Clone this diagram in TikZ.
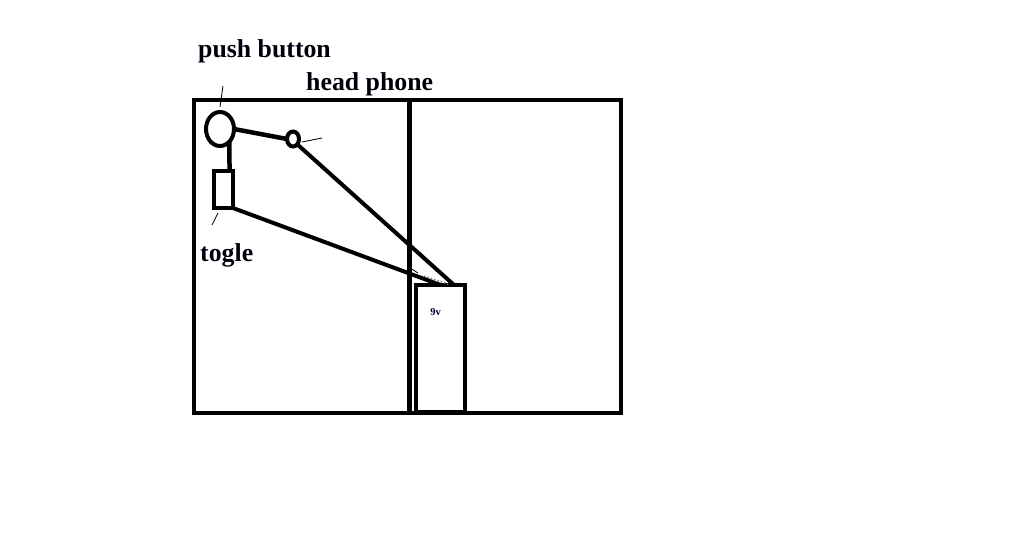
\documentclass[tikz,border=0pt]{standalone}
\usepackage{fontspec}
\setmainfont{Liberation Serif}
\usetikzlibrary{shapes.geometric}
\begin{document}
\begin{tikzpicture}[x=1pt,y=-1pt,
  part/.style={draw=black,line width=4.5pt,inner sep=0pt,outer sep=0pt},
  roundpart/.style={draw=black,line width=4pt,ellipse,inner sep=0pt,outer sep=0pt},
  wire/.style={draw=black,line width=4.5pt},
  lead/.style={draw=black,line width=0.8pt},
  caption/.style={font=\bfseries\fontsize{25.8}{28}\selectfont,text=black!95!blue,inner sep=0pt,anchor=base west}]
\useasboundingbox (0,0) rectangle (1024,544);
\fill[white] (0,0) rectangle (1024,544);
\node[part,minimum width=215.5pt,minimum height=313pt] (leftbox) at (301.75,256.5) {};
\node[part,minimum width=211.5pt,minimum height=313pt] (rightbox) at (515.25,256.5) {};
\coordinate (leadA) at (223,86);
\coordinate (leadB) at (220,107);
\coordinate (leadC) at (322,138);
\coordinate (leadD) at (302,142);
\coordinate (leadE) at (218,213);
\coordinate (leadF) at (212,225);
\coordinate (leadG) at (410,268);
\coordinate (leadH) at (418,273);
\node[part,minimum width=49pt,minimum height=127pt] (battery) at (440.5,348.5) {};
\node[part,minimum width=19pt,minimum height=37pt] (toggle) at (223.5,189.5) {};
\node[roundpart,minimum width=28pt,minimum height=34pt] (button) at (220,129) {};
\node[roundpart,minimum width=12pt,minimum height=15pt] (phone) at (293,139) {};
\draw[wire] (button.east) -- (phone.west);
\draw[wire] (button.-53) -- (toggle.72);
\draw[wire,line width=4pt] (phone.south east) -- (battery.78);
\draw[wire,line width=4pt] (toggle.south east) -- (battery.north);
\draw[lead] (leadA) -- (leadB);
\draw[lead] (leadC) -- (leadD);
\draw[lead] (leadE) -- (leadF);
\draw[lead] (leadG) -- (leadH);
\draw[gray,line width=1.5pt,dotted] (424,276) -- (448,284);
\node[caption] (lblpush) at (198,57) {push button};
\node[caption] (lblhead) at (306,90.5) {head phone};
\node[caption] (lbltogle) at (200,261.5) {togle};
\node[font=\bfseries\fontsize{10.5}{12}\selectfont,text=black!80!blue,inner sep=0pt] (lblnine) at (435.5,312) {9v};
\end{tikzpicture}
\end{document}
